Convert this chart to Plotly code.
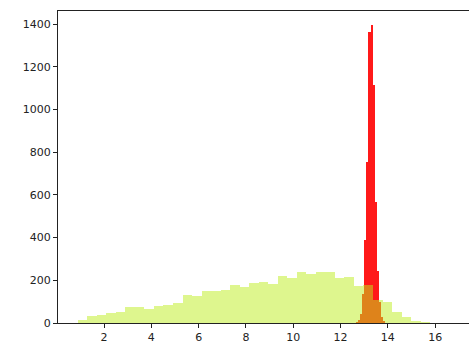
import plotly.graph_objects as go

# Broad distribution: 38 equal bins starting at 0.89
wide_start = 0.89
wide_width = 0.4026
wide_counts = [13, 33, 38, 45, 50, 73, 73, 66, 78, 83,
               92, 130, 125, 148, 148, 153, 176, 169, 188, 190,
               184, 219, 212, 237, 231, 239, 239, 212, 215, 174,
               176, 109, 97, 52, 28, 9, 5, 2]

# Narrow distribution: 16 bins starting at 12.555
narrow_start = 12.555
narrow_width = 0.089
narrow_counts = [2, 5, 15, 40, 135, 391, 754, 1363, 1394, 1113,
                 567, 242, 100, 30, 8, 2]

x_ticks = [2, 4, 6, 8, 10, 12, 14, 16]
y_ticks = [0, 200, 400, 600, 800, 1000, 1200, 1400]


def centers(start, width, n):
    return [start + width * (i + 0.5) for i in range(n)]


fig = go.Figure()
fig.add_trace(go.Bar(
    x=centers(narrow_start, narrow_width, len(narrow_counts)),
    y=narrow_counts,
    width=narrow_width,
    marker=dict(color="rgba(255,0,0,0.9)", line=dict(width=0)),
))
fig.add_trace(go.Bar(
    x=centers(wide_start, wide_width, len(wide_counts)),
    y=wide_counts,
    width=wide_width,
    marker=dict(color="rgba(190,238,30,0.5)", line=dict(width=0)),
))

axis_common = dict(
    showgrid=False, zeroline=False,
    showline=True, linecolor="#222", linewidth=1,
    ticks="outside", ticklen=4, tickwidth=1, tickcolor="#222",
    tickfont=dict(family="DejaVu Sans", size=11, color="#222"),
)

fig.update_layout(
    width=469, height=344,
    margin=dict(l=58, r=0, t=11, b=21),
    paper_bgcolor="white", plot_bgcolor="white",
    barmode="overlay", bargap=0, showlegend=False,
    xaxis=dict(range=[0.055, 17.43], tickvals=x_ticks, mirror=True, **axis_common),
    yaxis=dict(range=[0, 1461], tickvals=y_ticks, **axis_common),
)

fig.write_html("out.html")
